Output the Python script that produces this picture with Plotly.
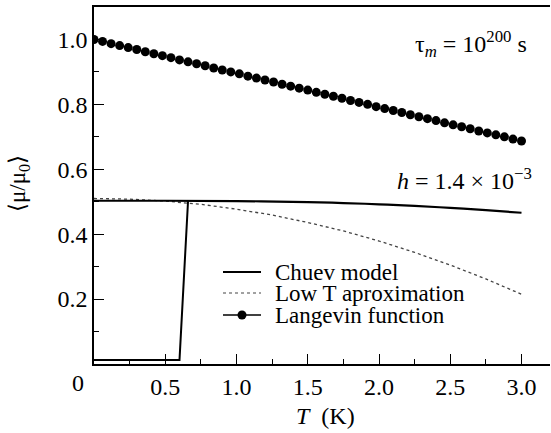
import plotly.graph_objects as go

# ---------------- data ----------------
langevin_T = [0.00, 0.06, 0.12, 0.18, 0.24, 0.30, 0.36, 0.42, 0.48, 0.54,
              0.60, 0.66, 0.72, 0.78, 0.84, 0.90, 0.96, 1.02, 1.08, 1.14,
              1.20, 1.26, 1.32, 1.38, 1.44, 1.50, 1.56, 1.62, 1.68, 1.74,
              1.80, 1.86, 1.92, 1.98, 2.04, 2.10, 2.16, 2.22, 2.28, 2.34,
              2.40, 2.46, 2.52, 2.58, 2.64, 2.70, 2.76, 2.82, 2.88, 2.94, 3.00]
langevin_mu = [1.000, 0.994, 0.987, 0.981, 0.975, 0.969, 0.962, 0.956, 0.950, 0.944,
               0.937, 0.931, 0.925, 0.919, 0.912, 0.906, 0.900, 0.894, 0.887, 0.881,
               0.875, 0.869, 0.862, 0.856, 0.850, 0.844, 0.837, 0.831, 0.825, 0.819,
               0.812, 0.806, 0.800, 0.793, 0.787, 0.781, 0.775, 0.768, 0.762, 0.756,
               0.750, 0.743, 0.737, 0.731, 0.725, 0.718, 0.712, 0.706, 0.700, 0.693, 0.687]

chuev_upper_T = [0.00, 0.50, 1.00, 1.50, 1.75, 2.00, 2.25, 2.50, 2.75, 3.00]
chuev_upper_mu = [0.503, 0.503, 0.502, 0.499, 0.496, 0.492, 0.487, 0.481, 0.474, 0.466]

chuev_lower_T = [0.00, 0.60, 0.66]
chuev_lower_mu = [0.012, 0.012, 0.503]

lowT_T = [0.00, 0.25, 0.50, 0.75, 1.00, 1.25, 1.50, 1.75, 2.00, 2.25, 2.50, 2.75, 3.00]
lowT_mu = [0.510, 0.508, 0.502, 0.492, 0.477, 0.459, 0.436, 0.410, 0.379, 0.344, 0.305, 0.262, 0.215]

x_tickvals = [0.5, 1.0, 1.5, 2.0, 2.5, 3.0]
x_ticktext = ["0.5", "1.0", "1.5", "2.0", "2.5", "3.0"]
y_tickvals = [0.2, 0.4, 0.6, 0.8, 1.0]
y_ticktext = ["0.2", "0.4", "0.6", "0.8", "1.0"]

legend_names = ["Chuev model", "Low T aproximation", "Langevin function"]

# ---------------- layout geometry ----------------
W, H = 551, 433
ML, MR, MT, MB = 94, 1, 7, 69
PW, PH = W - ML - MR, H - MT - MB
FONT = "Liberation Serif"


def px(x):
    return (x - ML) / PW


def py(y):
    return (H - MB - y) / PH


fig = go.Figure()

fig.add_trace(go.Scatter(x=lowT_T, y=lowT_mu, mode="lines",
                         line=dict(color="#444444", width=1.3, dash="dot"),
                         name=legend_names[1], showlegend=False))
fig.add_trace(go.Scatter(x=chuev_upper_T, y=chuev_upper_mu, mode="lines",
                         line=dict(color="black", width=2.2, shape="spline"),
                         name=legend_names[0], showlegend=False))
fig.add_trace(go.Scatter(x=chuev_lower_T, y=chuev_lower_mu, mode="lines",
                         line=dict(color="black", width=2),
                         name=legend_names[0], showlegend=False))
fig.add_trace(go.Scatter(x=langevin_T, y=langevin_mu, mode="markers",
                         marker=dict(color="black", size=9),
                         name=legend_names[2], showlegend=False))

annotations = []
shapes = []

# manual legend
leg_rows = [272, 293, 315]
for name, yy in zip(legend_names, leg_rows):
    annotations.append(dict(x=px(273), y=py(yy), xref="paper", yref="paper",
                            text=name, showarrow=False, xanchor="left", yanchor="middle",
                            font=dict(family=FONT, size=23, color="black")))
shapes.append(dict(type="line", xref="paper", yref="paper",
                   x0=px(223), x1=px(261), y0=py(leg_rows[0]), y1=py(leg_rows[0]),
                   line=dict(color="black", width=2)))
shapes.append(dict(type="line", xref="paper", yref="paper",
                   x0=px(223), x1=px(261), y0=py(leg_rows[1]), y1=py(leg_rows[1]),
                   line=dict(color="#444444", width=1.2, dash="dot")))
shapes.append(dict(type="line", xref="paper", yref="paper",
                   x0=px(223), x1=px(261), y0=py(leg_rows[2]), y1=py(leg_rows[2]),
                   line=dict(color="black", width=1.5)))
shapes.append(dict(type="circle", xref="paper", yref="paper",
                   x0=px(237.5), x1=px(246.5), y0=py(leg_rows[2] - 4.5), y1=py(leg_rows[2] + 4.5),
                   fillcolor="black", line=dict(color="black", width=0)))

# text annotations
annotations.append(dict(x=px(529), y=py(44), xref="paper", yref="paper",
                        text="τ<sub><i>m</i></sub> = 10<sup>200</sup> s", showarrow=False,
                        xanchor="right", yanchor="middle",
                        font=dict(family=FONT, size=24, color="black")))
annotations.append(dict(x=px(534), y=py(179), xref="paper", yref="paper",
                        text="<i>h</i> = 1.4 × 10<sup>−3</sup>", showarrow=False,
                        xanchor="right", yanchor="middle",
                        font=dict(family=FONT, size=24, color="black")))
# x "0" label offset to the left
annotations.append(dict(x=px(78), y=py(383), xref="paper", yref="paper",
                        text="0", showarrow=False, xanchor="center", yanchor="middle",
                        font=dict(family=FONT, size=24, color="black")))
# axis titles
annotations.append(dict(x=px(325), y=py(416), xref="paper", yref="paper",
                        text="<i>T</i>  (K)", showarrow=False, xanchor="center", yanchor="middle",
                        font=dict(family=FONT, size=24, color="black")))
annotations.append(dict(x=px(19), y=py(184), xref="paper", yref="paper",
                        text="⟨μ/μ<sub>0</sub>⟩", showarrow=False, textangle=-90,
                        xanchor="center", yanchor="middle",
                        font=dict(family=FONT, size=23, color="black")))

fig.update_layout(
    width=W, height=H,
    margin=dict(l=ML, r=MR, t=MT, b=MB, pad=0),
    paper_bgcolor="white", plot_bgcolor="white",
    showlegend=False,
    font=dict(family=FONT, size=24, color="black"),
    annotations=annotations, shapes=shapes,
    xaxis=dict(range=[0, 3.2], tickvals=x_tickvals, ticktext=x_ticktext,
               ticks="inside", ticklen=10, tickwidth=1.3, tickcolor="black",
               minor=dict(tickvals=[0.25, 0.75, 1.25, 1.75, 2.25, 2.75], ticks="inside",
                          ticklen=5, tickwidth=1.3, tickcolor="black"),
               showline=True, linecolor="black", linewidth=1.6, mirror=True,
               showgrid=False, zeroline=False,
               tickfont=dict(family=FONT, size=24, color="black")),
    yaxis=dict(range=[0, 1.1], tickvals=y_tickvals, ticktext=y_ticktext,
               ticks="inside", ticklen=10, tickwidth=1.3, tickcolor="black",
               minor=dict(tickvals=[0.1, 0.3, 0.5, 0.7, 0.9], ticks="inside",
                          ticklen=5, tickwidth=1.3, tickcolor="black"),
               showline=True, linecolor="black", linewidth=1.6, mirror=False,
               showgrid=False, zeroline=False,
               tickfont=dict(family=FONT, size=24, color="black")),
)

fig.write_html("out.html", config={"displayModeBar": False},
               post_script="document.body.style.margin='0px';")
